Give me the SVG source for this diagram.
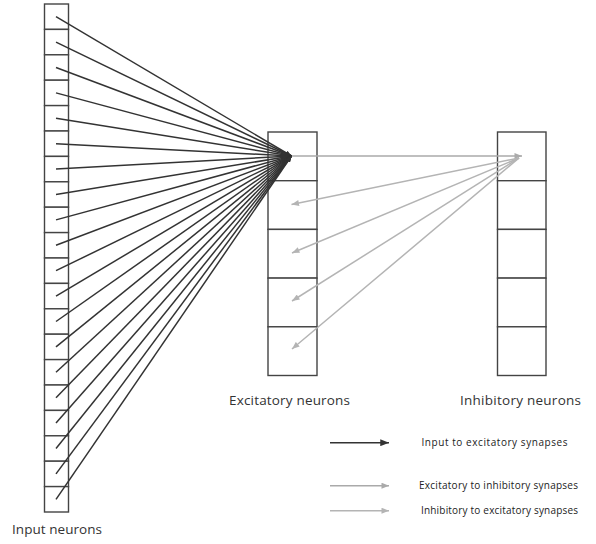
<svg xmlns="http://www.w3.org/2000/svg" width="596" height="544" viewBox="0 0 596 544">
<style>
.cell{fill:#fff;stroke:#444;stroke-width:1.4}
.blk{stroke:#333;stroke-width:1.5;fill:none}
.gry{stroke:#aaa;stroke-width:1.5;fill:none}
.gry2{stroke:#b4b4b4;stroke-width:1.5;fill:none}
.lbl{font-family:"Open Sans","Liberation Sans",sans-serif;font-size:13.5px;fill:#333}
.leg{font-family:"Open Sans","Liberation Sans",sans-serif;font-size:10px;fill:#222}
</style>
<defs>
<marker id="ab" viewBox="0 0 10 8" refX="10" refY="4" markerWidth="6" markerHeight="5" markerUnits="userSpaceOnUse" orient="auto"><path d="M0,0L10,4L0,8z" fill="#333"/></marker>
<marker id="ag" viewBox="0 0 10 8" refX="10" refY="4" markerWidth="8" markerHeight="6" markerUnits="userSpaceOnUse" orient="auto"><path d="M0,0L10,4L0,8z" fill="#aaa"/></marker>
<marker id="ag2" viewBox="0 0 10 8" refX="10" refY="4" markerWidth="8" markerHeight="6" markerUnits="userSpaceOnUse" orient="auto"><path d="M0,0L10,4L0,8z" fill="#b4b4b4"/></marker>
<marker id="abl" viewBox="0 0 10 8" refX="10" refY="4" markerWidth="9" markerHeight="7" markerUnits="userSpaceOnUse" orient="auto"><path d="M0,0L10,4L0,8z" fill="#333"/></marker>
</defs>
<g id="input-neurons">
<rect class="cell" x="44.5" y="4" width="24" height="25.4"/>
<rect class="cell" x="44.5" y="29.4" width="24" height="25.4"/>
<rect class="cell" x="44.5" y="54.8" width="24" height="25.4"/>
<rect class="cell" x="44.5" y="80.2" width="24" height="25.4"/>
<rect class="cell" x="44.5" y="105.6" width="24" height="25.4"/>
<rect class="cell" x="44.5" y="131" width="24" height="25.4"/>
<rect class="cell" x="44.5" y="156.4" width="24" height="25.4"/>
<rect class="cell" x="44.5" y="181.8" width="24" height="25.4"/>
<rect class="cell" x="44.5" y="207.2" width="24" height="25.4"/>
<rect class="cell" x="44.5" y="232.6" width="24" height="25.4"/>
<rect class="cell" x="44.5" y="258" width="24" height="25.4"/>
<rect class="cell" x="44.5" y="283.4" width="24" height="25.4"/>
<rect class="cell" x="44.5" y="308.8" width="24" height="25.4"/>
<rect class="cell" x="44.5" y="334.2" width="24" height="25.4"/>
<rect class="cell" x="44.5" y="359.6" width="24" height="25.4"/>
<rect class="cell" x="44.5" y="385" width="24" height="25.4"/>
<rect class="cell" x="44.5" y="410.4" width="24" height="25.4"/>
<rect class="cell" x="44.5" y="435.8" width="24" height="25.4"/>
<rect class="cell" x="44.5" y="461.2" width="24" height="25.4"/>
<rect class="cell" x="44.5" y="486.6" width="24" height="25.4"/>
<text class="lbl" x="12" y="534" textLength="90">Input neurons</text>
</g>
<g id="excitatory-neurons">
<rect class="cell" x="268" y="132" width="49" height="48.7"/>
<rect class="cell" x="268" y="180.7" width="49" height="48.7"/>
<rect class="cell" x="268" y="229.4" width="49" height="48.7"/>
<rect class="cell" x="268" y="278.1" width="49" height="48.7"/>
<rect class="cell" x="268" y="326.8" width="49" height="48.7"/>
<text class="lbl" x="229" y="405" textLength="121">Excitatory neurons</text>
</g>
<g id="inhibitory-neurons">
<rect class="cell" x="497.5" y="132" width="48.5" height="48.7"/>
<rect class="cell" x="497.5" y="180.7" width="48.5" height="48.7"/>
<rect class="cell" x="497.5" y="229.4" width="48.5" height="48.7"/>
<rect class="cell" x="497.5" y="278.1" width="48.5" height="48.7"/>
<rect class="cell" x="497.5" y="326.8" width="48.5" height="48.7"/>
<text class="lbl" x="460" y="405" textLength="121">Inhibitory neurons</text>
</g>
<g id="connectors">
<g class="blk" marker-end="url(#ab)">
<line x1="56" y1="16.7" x2="291.5" y2="156"/>
<line x1="56" y1="42.1" x2="291.5" y2="156"/>
<line x1="56" y1="67.5" x2="291.5" y2="156"/>
<line x1="56" y1="92.9" x2="291.5" y2="156"/>
<line x1="56" y1="118.3" x2="291.5" y2="156"/>
<line x1="56" y1="143.7" x2="291.5" y2="156"/>
<line x1="56" y1="169.1" x2="291.5" y2="156"/>
<line x1="56" y1="194.5" x2="291.5" y2="156"/>
<line x1="56" y1="219.9" x2="291.5" y2="156"/>
<line x1="56" y1="245.3" x2="291.5" y2="156"/>
<line x1="56" y1="270.7" x2="291.5" y2="156"/>
<line x1="56" y1="296.1" x2="291.5" y2="156"/>
<line x1="56" y1="321.5" x2="291.5" y2="156"/>
<line x1="56" y1="346.9" x2="291.5" y2="156"/>
<line x1="56" y1="372.3" x2="291.5" y2="156"/>
<line x1="56" y1="397.7" x2="291.5" y2="156"/>
<line x1="56" y1="423.1" x2="291.5" y2="156"/>
<line x1="56" y1="448.5" x2="291.5" y2="156"/>
<line x1="56" y1="473.9" x2="291.5" y2="156"/>
<line x1="56" y1="499.3" x2="291.5" y2="156"/>
</g>
<line class="gry" x1="292" y1="156" x2="522" y2="156" marker-end="url(#ag)"/>
<g class="gry2" marker-end="url(#ag2)">
<line x1="519" y1="158" x2="291.5" y2="204.5"/>
<line x1="519" y1="158" x2="292" y2="253"/>
<line x1="519" y1="158" x2="292" y2="301"/>
<line x1="519" y1="158" x2="292" y2="349"/>
</g>
</g>
<g id="legend">
<line class="blk" x1="330" y1="442.7" x2="389" y2="442.7" marker-end="url(#abl)"/>
<text class="leg" x="421.5" y="445.5" textLength="146">Input to excitatory synapses</text>
<line class="gry" x1="330" y1="485.7" x2="389" y2="485.7" marker-end="url(#ag)"/>
<text class="leg" x="419" y="489" textLength="159">Excitatory to inhibitory synapses</text>
<line class="gry2" x1="330" y1="510.7" x2="389" y2="510.7" marker-end="url(#ag2)"/>
<text class="leg" x="421" y="514" textLength="157">Inhibitory to excitatory synapses</text>
</g>
</svg>
